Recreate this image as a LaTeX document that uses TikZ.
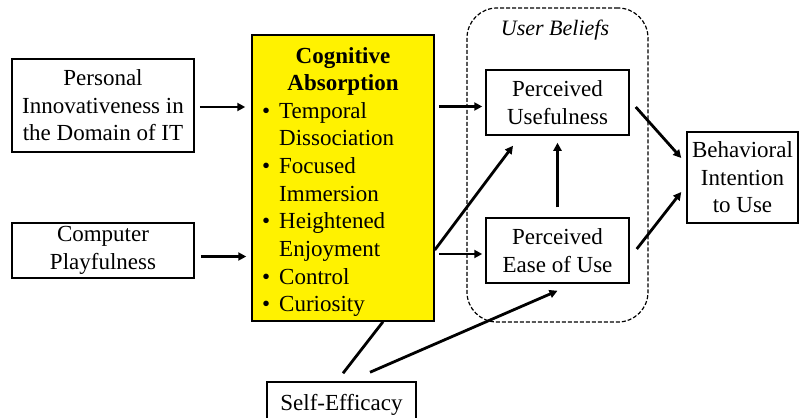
\documentclass[tikz,border=0pt]{standalone}
\usepackage{fontspec}
\setmainfont{Liberation Serif}
\usetikzlibrary{arrows.meta}
\begin{document}
\begin{tikzpicture}[x=1pt,y=-1pt,
  txt/.style={font=\fontsize{23}{27.5}\selectfont},
  box/.style={draw, line width=1.5pt, txt, align=center, inner sep=0pt},
  cabox/.style={box, fill=yellow},
  group/.style={draw, line width=1.2pt, dash pattern=on 4pt off 2pt, rounded corners=30pt},
  arr/.style={line width=2.8pt, -{Triangle[length=8pt,width=8pt]}},
  link/.style={line width=2.8pt}]
\clip (0,0) rectangle (799,417);

% grouping frame for the user beliefs
\node[group, minimum width=181pt, minimum height=314pt] (ub) at (557.5,165) {};
\node[txt, font=\fontsize{22}{26}\selectfont\itshape] (ubl) at (555,30) {User Beliefs};

% antecedents
\node[box, minimum width=182pt, minimum height=93pt] (pi) at (103,105.5)
  {Personal\\Innovativeness in\\the Domain of IT};
\node[box, minimum width=182pt, minimum height=55pt] (cp) at (103,250.5)
  {Computer\\Playfulness};

% cognitive absorption
\node[cabox, minimum width=182pt, minimum height=286pt] (ca) at (343,178) {};
\node[txt, font=\fontsize{23}{27.5}\selectfont\bfseries, align=center] (cat) at (343,71.5)
  {Cognitive\\Absorption};
\node[txt, font=\fontsize{23}{27.7}\selectfont, align=left, anchor=west, inner sep=0pt] (cal) at (262,209.5)
  {\makebox[17pt][l]{\textbullet}Temporal\\
   \makebox[17pt][l]{}Dissociation\\
   \makebox[17pt][l]{\textbullet}Focused\\
   \makebox[17pt][l]{}Immersion\\
   \makebox[17pt][l]{\textbullet}Heightened\\
   \makebox[17pt][l]{}Enjoyment\\
   \makebox[17pt][l]{\textbullet}Control\\
   \makebox[17pt][l]{\textbullet}Curiosity};

% beliefs and outcome
\node[box, minimum width=143pt, minimum height=65pt] (pu) at (557.5,102.5)
  {Perceived\\Usefulness};
\node[box, minimum width=143pt, minimum height=65pt] (peou) at (557.5,250.5)
  {Perceived\\Ease of Use};
\node[box, minimum width=111pt, minimum height=91pt] (bi) at (742.5,177.5)
  {Behavioral\\Intention\\to Use};
\node[box, minimum width=149pt, minimum height=46pt] (se) at (341.5,405)
  {Self-Efficacy};

% connectors
\draw[arr, shorten <=5pt, shorten >=6pt] ([yshift=-1.5pt]pi.east) -- ([yshift=-1.5pt]ca.west |- pi.east);
\draw[arr, shorten <=6pt, shorten >=5pt] ([yshift=-6pt]cp.east) -- ([yshift=-6pt]ca.west |- cp.east);
\draw[arr, shorten <=4pt, shorten >=3pt] ([yshift=-4pt]ca.east |- pu.west) -- ([yshift=-4pt]pu.west);
\draw[arr, shorten <=4pt, shorten >=3pt] ([yshift=-3.5pt]ca.east |- peou.west) -- ([yshift=-3.5pt]peou.west);
\draw[arr] ([yshift=-72pt]ca.east) -- ([shift={(-44.5pt,-10pt)}]pu.south);
\draw[arr, shorten <=10pt, shorten >=7pt] (peou.north) -- (pu.south);
\draw[arr] ([shift={(6pt,-4.5pt)}]pu.east) -- ([shift={(-5pt,19.5pt)}]bi.west);
\draw[arr] ([shift={(7pt,1.5pt)}]peou.east) -- ([shift={(-5pt,-14.5pt)}]bi.west);
\draw[arr] ([shift={(28.5pt,9pt)}]se.north) -- ([yshift=-7pt]peou.south);
\draw[link] ([shift={(1.5pt,8pt)}]se.north) -- ([xshift=40pt]ca.south);
\end{tikzpicture}
\end{document}
